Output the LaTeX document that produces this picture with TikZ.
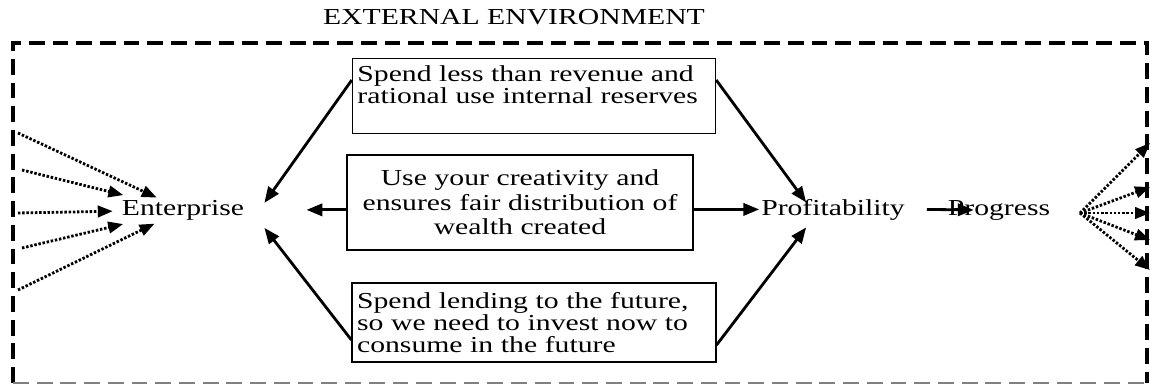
\documentclass[tikz,border=0pt]{standalone}
\usepackage{fontspec}
\setmainfont{Liberation Serif}[FakeStretch=1.3]
\usetikzlibrary{arrows.meta,positioning,calc}
\tikzset{
    flowbox/.style={draw, line width=0.8pt, inner xsep=2.8pt, inner ysep=4pt, font=\fontsize{13}{12.5}\selectfont},
    flowlabel/.style={font=\fontsize{13}{13}\selectfont, anchor=base},
    flowarrow/.style={-{Triangle[length=9pt,width=7pt]}, line width=1.6pt},
    flowdotted/.style={-{Triangle[length=8.5pt,width=6.5pt]}, line width=1.6pt, dash pattern=on 1.4pt off 1pt},
    envframe/.style={line width=1.8pt, dash pattern=on 9pt off 4.5pt}
}

\begin{document}
\begin{tikzpicture}[x=0.02cm, y=-0.02cm]
    \useasboundingbox (0,0) rectangle (1153,385);
    % external environment frame
    \draw[envframe] (13,383) -- (13,43) -- (1147,43) -- (1147,383);
    \draw[envframe, line width=0.8pt, gray] (13,383) -- (1147,383);
    \node[flowlabel] (env) at (514,25) {EXTERNAL ENVIRONMENT};

    % the three rules
    \node[flowbox] (reserves) at (534,96) {\parbox[c][35pt][t]{201pt}{Spend less than revenue and\\rational use internal reserves}};
    \node[flowbox, text width=191.4pt, align=center, minimum height=54pt, font=\fontsize{13}{14}\selectfont] (wealth) at (520,202.5) {Use your creativity and\\ensures fair distribution of\\wealth created};
    \node[flowbox, text width=201.4pt, align=left, minimum height=45pt] (future) at (534,322.5) {Spend lending to the future,\\so we need to invest now to\\consume in the future};

    \node[flowlabel, inner xsep=11.4pt] (ent) at (183,215) {Enterprise};
    \node[flowlabel, inner xsep=1pt] (prof) at (833,215) {Profitability};
    \node[flowlabel] (prog) at (999,215) {Progress};

    \draw[flowarrow] ([shift={(0,-16)}]reserves.west) -- ([shift={(0,-7)}]ent.east);
    \draw[flowarrow] ([shift={(0,17.5)}]future.west) -- ([shift={(0,18)}]ent.east);
    \draw[flowarrow, shorten >=24pt] (wealth.west |- ent.east) -- (ent.east);
    \draw[flowarrow] (wealth.east |- prof.west) -- (prof.west);
    \draw[flowarrow] ([shift={(0,-16)}]reserves.east) -- ([shift={(47,-7)}]prof.west);
    \draw[flowarrow] ([shift={(0,22.5)}]future.east) -- ([shift={(47,18)}]prof.west);
    \draw[flowarrow] ([shift={(20,0)}]prof.east) -- ([shift={(32,0)}]prog.west);

    % inputs from the environment
    \foreach \ya/\xa/\cut [count=\i] in {133/18/16.5pt, 170/22/35pt, 213/18/40pt, 248/22/35pt, 290/18/18pt} {
        \coordinate (in\i) at (\xa,\ya);
        \draw[flowdotted, shorten >=\cut] (in\i) -- (ent.center);
    }

    % outputs to the environment
    \coordinate (out) at (1080,213);
    \foreach \yb [count=\i] in {143,187,213,240,270} {
        \coordinate (exit\i) at (1150,\yb);
        \draw[flowdotted] (out) -- (exit\i);
    }
\end{tikzpicture}
\end{document}
